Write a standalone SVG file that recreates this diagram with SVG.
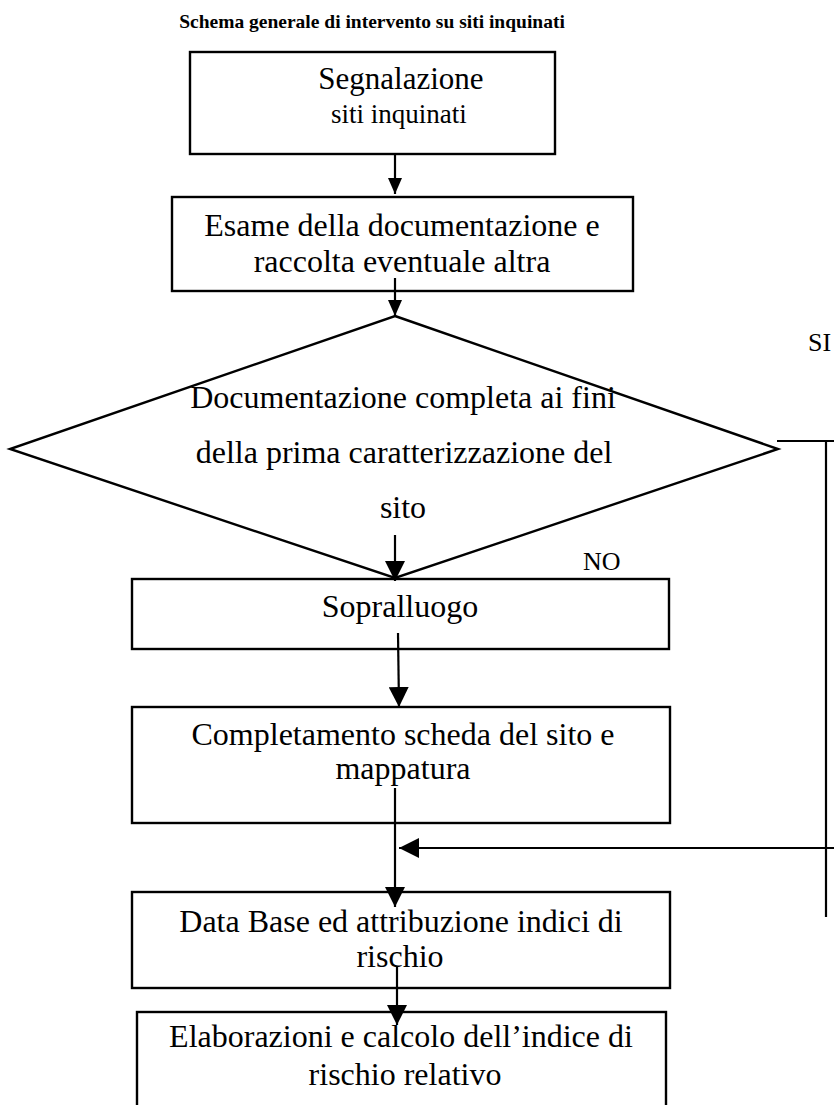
<svg xmlns="http://www.w3.org/2000/svg" width="834" height="1105" viewBox="0 0 834 1105">
<style>
.box{fill:#fff;stroke:#000;stroke-width:2.4}
.t{font-family:"Liberation Serif","Times New Roman",serif;font-size:32px;fill:#000;text-anchor:middle}
.con{stroke:#000;stroke-width:2.2;fill:none}
</style>
<defs>
<marker id="ah" markerUnits="userSpaceOnUse" markerWidth="20" markerHeight="20" refX="20" refY="10" orient="auto"><path d="M0,0 L20,10 L0,20 z" fill="#000"/></marker>
<marker id="ahs" markerUnits="userSpaceOnUse" markerWidth="16" markerHeight="14" refX="16" refY="7" orient="auto"><path d="M0,0 L16,7 L0,14 z" fill="#000"/></marker>
</defs>
<rect width="834" height="1105" fill="#fff"/>
<text x="372" y="28" style="font-family:'Liberation Serif','Times New Roman',serif;font-size:19.5px;font-weight:bold;text-anchor:middle">Schema generale di intervento su siti inquinati</text>

<g id="n1">
<rect class="box" x="190" y="52" width="365" height="102"/>
<text class="t" x="401" y="89" style="font-size:31px">Segnalazione</text>
<text class="t" x="399" y="123" style="font-size:27px">siti  inquinati</text>
</g>
<g id="n2">
<rect class="box" x="172" y="197" width="461" height="94"/>
<text class="t" x="402" y="236">Esame della documentazione e</text>
<text class="t" x="402" y="272">raccolta eventuale altra</text>
</g>
<g id="n3">
<polygon points="395,316 778,449 395,578 10,449" fill="none" stroke="#000" stroke-width="2.4"/>
<text class="t" x="403" y="408">Documentazione completa ai fini</text>
<text class="t" x="404" y="463">della prima caratterizzazione del</text>
<text class="t" x="403" y="518">sito</text>
</g>
<g id="n4">
<rect class="box" x="132" y="579" width="537" height="70"/>
<text class="t" x="400" y="617">Sopralluogo</text>
</g>
<g id="n5">
<rect class="box" x="132" y="707" width="538" height="116"/>
<text class="t" x="403" y="745">Completamento scheda del sito e</text>
<text class="t" x="403" y="779">mappatura</text>
</g>
<g id="n6">
<rect class="box" x="132" y="892" width="538" height="96"/>
<text class="t" x="401" y="932">Data Base ed attribuzione indici di</text>
<text class="t" x="400" y="967">rischio</text>
</g>
<g id="n7">
<rect class="box" x="137" y="1012" width="529" height="110"/>
<text class="t" x="401" y="1047">Elaborazioni e calcolo dell’indice di</text>
<text class="t" x="405" y="1085">rischio relativo</text>
</g>

<g id="connectors">
<line class="con" x1="395" y1="154" x2="395" y2="194" marker-end="url(#ahs)"/>
<line class="con" x1="395" y1="278" x2="395" y2="316" marker-end="url(#ahs)"/>
<line class="con" x1="395" y1="535" x2="395" y2="581" marker-end="url(#ah)"/>
<line class="con" x1="398" y1="633" x2="399" y2="707" marker-end="url(#ah)"/>
<line class="con" x1="395" y1="788" x2="395" y2="907" marker-end="url(#ah)"/>
<line class="con" x1="397" y1="967" x2="397" y2="1025" marker-end="url(#ah)"/>
<polyline class="con" points="777,441 834,441"/>
<line class="con" x1="826" y1="441" x2="826" y2="917"/>
<line class="con" x1="834" y1="848" x2="399" y2="848" marker-end="url(#ah)"/>
<text x="583" y="570" style="font-family:'Liberation Serif','Times New Roman',serif;font-size:26px">NO</text>
<text x="808" y="351" style="font-family:'Liberation Serif','Times New Roman',serif;font-size:26px">SI</text>
</g>
</svg>
